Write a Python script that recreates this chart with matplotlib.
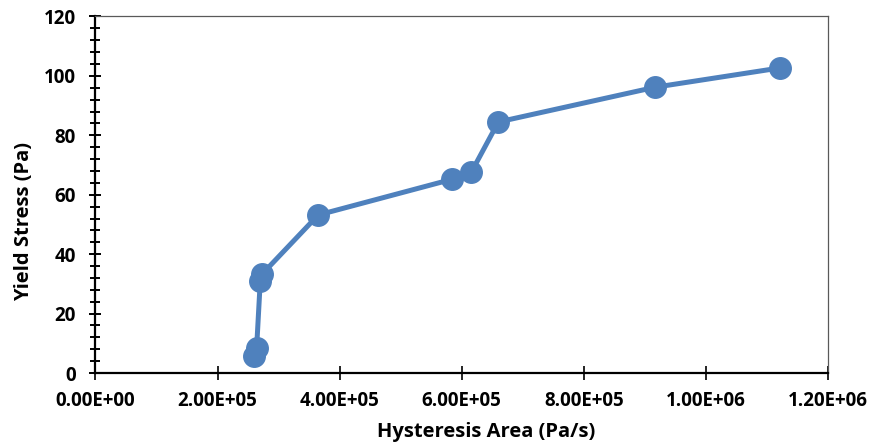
import matplotlib.pyplot as plt
from matplotlib.ticker import MultipleLocator, FuncFormatter

plt.rcParams['font.family'] = ['Open Sans', 'DejaVu Sans']
plt.rcParams['font.weight'] = 'bold'

# 数据
hysteresis_area = [2.60e5, 2.64e5, 2.70e5, 2.73e5, 3.65e5, 5.84e5, 6.16e5, 6.60e5, 9.17e5, 1.122e6]
yield_stress = [5.6, 8.4, 31.0, 33.3, 53.2, 65.2, 67.7, 84.5, 96.2, 102.7]

x_ticks = [0, 2e5, 4e5, 6e5, 8e5, 1e6, 1.2e6]

fig = plt.figure(figsize=(8.71, 4.47), dpi=100)
ax = fig.add_axes([0.1096, 0.1655, 0.8410, 0.7976])

ax.plot(hysteresis_area, yield_stress,
        color='#4f81bd', linewidth=3.6,
        marker='o', markersize=15.5,
        markerfacecolor='#4f81bd', markeredgecolor='#4f81bd',
        solid_capstyle='round', solid_joinstyle='round')

ax.set_xlim(0, 1.2e6)
ax.set_ylim(0, 120)
ax.set_xticks(x_ticks)
ax.xaxis.set_major_formatter(FuncFormatter(lambda v, p: f'{v:.2E}'))
ax.yaxis.set_major_locator(MultipleLocator(20))
ax.yaxis.set_minor_locator(MultipleLocator(4))

# 坐标轴样式
for s in ['left', 'bottom']:
    ax.spines[s].set_linewidth(1.6)
    ax.spines[s].set_color('black')
for s in ['top', 'right']:
    ax.spines[s].set_linewidth(0.9)
    ax.spines[s].set_color('#595959')

ax.tick_params(axis='x', which='major', direction='inout', length=10,
               width=1.2, labelsize=13.5, pad=8)
ax.tick_params(axis='y', which='major', direction='inout', length=8,
               width=1.4, labelsize=13.5, pad=10)
ax.tick_params(axis='y', which='minor', direction='inout', length=7.5,
               width=1.4)
for lab in ax.get_xticklabels() + ax.get_yticklabels():
    lab.set_fontweight('bold')

ax.set_xlabel('Hysteresis Area (Pa/s)', fontsize=14.5, fontweight='bold', va='center')
ax.set_ylabel('Yield Stress (Pa)', fontsize=14.5, fontweight='bold', va='center')
ax.xaxis.set_label_coords(0.534, -0.165)
ax.yaxis.set_label_coords(-0.098, 0.424)

plt.savefig('out.png', dpi=100)
